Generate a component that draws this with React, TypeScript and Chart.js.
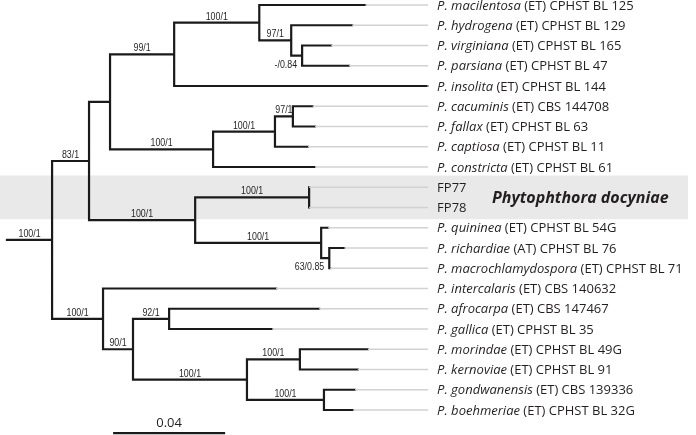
import React, { useEffect, useRef } from "react";
import { Chart, registerables } from "chart.js";

Chart.register(...registerables);

// ---- Data ----
const tipSpecies = [
  "P. macilentosa", "P. hydrogena", "P. virginiana", "P. parsiana", "P. insolita",
  "P. cacuminis", "P. fallax", "P. captiosa", "P. constricta", "", "",
  "P. quininea", "P. richardiae", "P. macrochlamydospora", "P. intercalaris",
  "P. afrocarpa", "P. gallica", "P. morindae", "P. kernoviae", "P. gondwanensis", "P. boehmeriae",
];
const tipStrains = [
  "(ET) CPHST BL 125", "(ET) CPHST BL 129", "(ET) CPHST BL 165", "(ET) CPHST BL 47", "(ET) CPHST BL 144",
  "(ET) CBS 144708", "(ET) CPHST BL 63", "(ET) CPHST BL 11", "(ET) CPHST BL 61", "FP77", "FP78",
  "(ET) CPHST BL 54G", "(AT) CPHST BL 76", "(ET) CPHST BL 71", "(ET) CBS 140632",
  "(ET) CBS 147467", "(ET) CPHST BL 35", "(ET) CPHST BL 49G", "(ET) CPHST BL 91", "(ET) CBS 139336", "(ET) CPHST BL 32G",
];
const tipParents = ["E", "F", "G", "G", "D", "J", "J", "I", "H", "L", "L", "M", "N", "N", "O", "Q", "Q", "S", "S", "T", "T"];
const tipLengths = [0.0379, 0.0218, 0.0104, 0.0168, 0.0904, 0.0071, 0.0079, 0.0118, 0.0364, 0, 0, 0.0025, 0.0054, 0.0003, 0.0618, 0.0536, 0.0368, 0.0243, 0.0207, 0.0111, 0.0104];

const nodeIds = ["root", "B", "C", "D", "E", "F", "G", "H", "I", "J", "K", "L", "M", "N", "O", "P", "Q", "R", "S", "T"];
const nodeParents = [null, "root", "B", "C", "D", "E", "F", "C", "H", "I", "B", "K", "K", "M", "root", "O", "P", "P", "R", "R"];
const nodeLengths = [0.0161, 0.0132, 0.0075, 0.0229, 0.0304, 0.0114, 0.0039, 0.0368, 0.0221, 0.0064, 0.0379, 0.0407, 0.045, 0.0029, 0.0182, 0.0107, 0.0129, 0.0407, 0.0189, 0.0275];
const nodeSupport = ["100/1", "83/1", "", "99/1", "100/1", "97/1", "-/0.84", "100/1", "100/1", "97/1", "100/1", "100/1", "100/1", "63/0.85", "100/1", "90/1", "92/1", "100/1", "100/1", "100/1"];

const cladeName = "Phytophthora docyniae";
const cladeTips = [9, 10];
const scaleBarLength = 0.04;
const scaleBarLabel = "0.04";

// ---- Layout constants ----
const W = 696;
const H = 435;
const X_MIN = -0.0025;
const X_MAX = 0.24607;
const Y_MIN = -0.247;
const Y_MAX = 21.235;
const LEADER_END = 0.1504;
const SCALE_BAR_X = 0.0379;
const SCALE_BAR_ROW = 21.14;

const TEXT = "#231f20";
const SUP_FONT = "11.5px 'Liberation Sans', Arial, sans-serif";
const SUP_SCALE = 0.77;
const TIP_FONT = "13px 'Open Sans', sans-serif";
const TIP_FONT_I = "italic 13px 'Open Sans', sans-serif";

function buildTree() {
  const x: Record<string, number> = {};
  const y: Record<string, number> = {};
  const children: Record<string, string[]> = {};
  nodeIds.forEach((id) => (children[id] = []));
  tipParents.forEach((p, i) => children[p].push("t" + i));
  nodeParents.forEach((p, i) => {
    if (p) children[p].push(nodeIds[i]);
  });
  const nodeX = (id: string): number => {
    if (x[id] !== undefined) return x[id];
    const i = nodeIds.indexOf(id);
    const p = nodeParents[i];
    x[id] = (p ? nodeX(p) : 0) + nodeLengths[i];
    return x[id];
  };
  nodeIds.forEach((id) => nodeX(id));
  tipParents.forEach((p, i) => {
    x["t" + i] = x[p] + tipLengths[i];
    y["t" + i] = i;
  });
  const nodeY = (id: string): number => {
    if (y[id] !== undefined) return y[id];
    const ys = children[id].map(nodeY);
    y[id] = (Math.min(...ys) + Math.max(...ys)) / 2;
    return y[id];
  };
  nodeIds.forEach((id) => nodeY(id));
  return { x, y, children };
}

export default function App() {
  const ref = useRef<HTMLCanvasElement | null>(null);

  useEffect(() => {
    const canvas = ref.current;
    if (!canvas) return;
    const { x, y, children } = buildTree();

    const branches: any[] = [];
    const gap = () => branches.push({ x: NaN, y: NaN });
    branches.push({ x: 0, y: y["root"] }, { x: x["root"], y: y["root"] });
    gap();
    nodeIds.forEach((id) => {
      const ch = children[id].slice().sort((a, b) => y[a] - y[b]);
      const first = ch[0];
      const last = ch[ch.length - 1];
      branches.push(
        { x: x[first], y: y[first] },
        { x: x[id], y: y[first] },
        { x: x[id], y: y[last] },
        { x: x[last], y: y[last] }
      );
      gap();
      ch.slice(1, -1).forEach((c) => {
        branches.push({ x: x[id], y: y[c] }, { x: x[c], y: y[c] });
        gap();
      });
    });

    const leaders: any[] = [];
    tipParents.forEach((_, i) => {
      const tx = x["t" + i];
      if (tx < LEADER_END) {
        leaders.push({ x: tx, y: i }, { x: LEADER_END, y: i }, { x: NaN, y: NaN });
      }
    });

    const scaleBar = [
      { x: SCALE_BAR_X, y: SCALE_BAR_ROW },
      { x: SCALE_BAR_X + scaleBarLength, y: SCALE_BAR_ROW },
    ];

    const textPlugin = {
      id: "treeText",
      beforeDatasetsDraw(chart: any) {
        const ctx = chart.ctx;
        const ys = chart.scales.y;
        const top = ys.getPixelForValue(cladeTips[0] - 0.58);
        const bot = ys.getPixelForValue(cladeTips[cladeTips.length - 1] + 0.58);
        ctx.save();
        ctx.fillStyle = "#e9e9e9";
        ctx.fillRect(0, top, 688, bot - top);
        ctx.restore();
      },
      afterDatasetsDraw(chart: any) {
        const ctx = chart.ctx;
        const xs = chart.scales.x;
        const ys = chart.scales.y;
        ctx.save();
        ctx.fillStyle = TEXT;
        const lx = xs.getPixelForValue(LEADER_END) + 9;
        tipSpecies.forEach((sp, i) => {
          const py = ys.getPixelForValue(i) + 1;
          ctx.textBaseline = "middle";
          ctx.textAlign = "left";
          let cx = lx;
          if (sp) {
            ctx.font = TIP_FONT_I;
            ctx.fillText(sp, cx, py);
            cx += ctx.measureText(sp + " ").width;
          }
          ctx.font = TIP_FONT;
          ctx.fillText(tipStrains[i], cx, py);
        });
        ctx.font = "italic bold 16px 'Open Sans', sans-serif";
        ctx.textBaseline = "middle";
        ctx.textAlign = "left";
        ctx.fillText(cladeName, 492, ys.getPixelForValue((cladeTips[0] + cladeTips[1]) / 2) + 1);
        // support values (horizontally condensed)
        ctx.font = SUP_FONT;
        nodeIds.forEach((id, i) => {
          const s = nodeSupport[i];
          if (!s) return;
          const p = nodeParents[i];
          const x0 = xs.getPixelForValue(p ? x[p] : 0);
          const x1 = xs.getPixelForValue(x[id]);
          const py = ys.getPixelForValue(y[id]);
          const w = ctx.measureText(s).width * SUP_SCALE;
          ctx.save();
          if (w > x1 - x0 + 2) {
            ctx.translate(x1 - 5, py + 3);
            ctx.scale(SUP_SCALE, 1);
            ctx.textAlign = "right";
            ctx.textBaseline = "top";
          } else {
            ctx.translate((x0 + x1) / 2, py - 3);
            ctx.scale(SUP_SCALE, 1);
            ctx.textAlign = "center";
            ctx.textBaseline = "alphabetic";
          }
          ctx.fillText(s, 0, 0);
          ctx.restore();
        });
        ctx.font = "13px 'Open Sans', sans-serif";
        ctx.textAlign = "center";
        ctx.textBaseline = "middle";
        ctx.fillText(
          scaleBarLabel,
          xs.getPixelForValue(SCALE_BAR_X + scaleBarLength / 2),
          ys.getPixelForValue(SCALE_BAR_ROW) - 10
        );
        ctx.restore();
      },
    };

    const chart = new Chart(canvas, {
      type: "scatter",
      data: {
        datasets: [
          {
            data: leaders,
            showLine: true,
            borderColor: "#d2d2d2",
            borderWidth: 1.3,
            pointRadius: 0,
            spanGaps: false,
          },
          {
            data: branches,
            showLine: true,
            borderColor: "#1a1a1a",
            borderWidth: 2.2,
            borderCapStyle: "square",
            borderJoinStyle: "miter",
            pointRadius: 0,
            spanGaps: false,
          },
          {
            data: scaleBar,
            showLine: true,
            borderColor: "#1a1a1a",
            borderWidth: 2.2,
            pointRadius: 0,
          },
        ],
      } as any,
      options: {
        animation: false,
        responsive: false,
        maintainAspectRatio: false,
        layout: { padding: 0 },
        plugins: { legend: { display: false }, tooltip: { enabled: false } },
        scales: {
          x: { type: "linear", min: X_MIN, max: X_MAX, display: false },
          y: { type: "linear", min: Y_MIN, max: Y_MAX, reverse: true, display: false },
        },
      } as any,
      plugins: [textPlugin],
    });
    return () => chart.destroy();
  }, []);

  return (
    <div style={{ position: "fixed", left: 0, top: 0, width: W, height: H, background: "#fff" }}>
      <canvas ref={ref} width={W} height={H} style={{ width: W, height: H, display: "block" }} />
    </div>
  );
}
